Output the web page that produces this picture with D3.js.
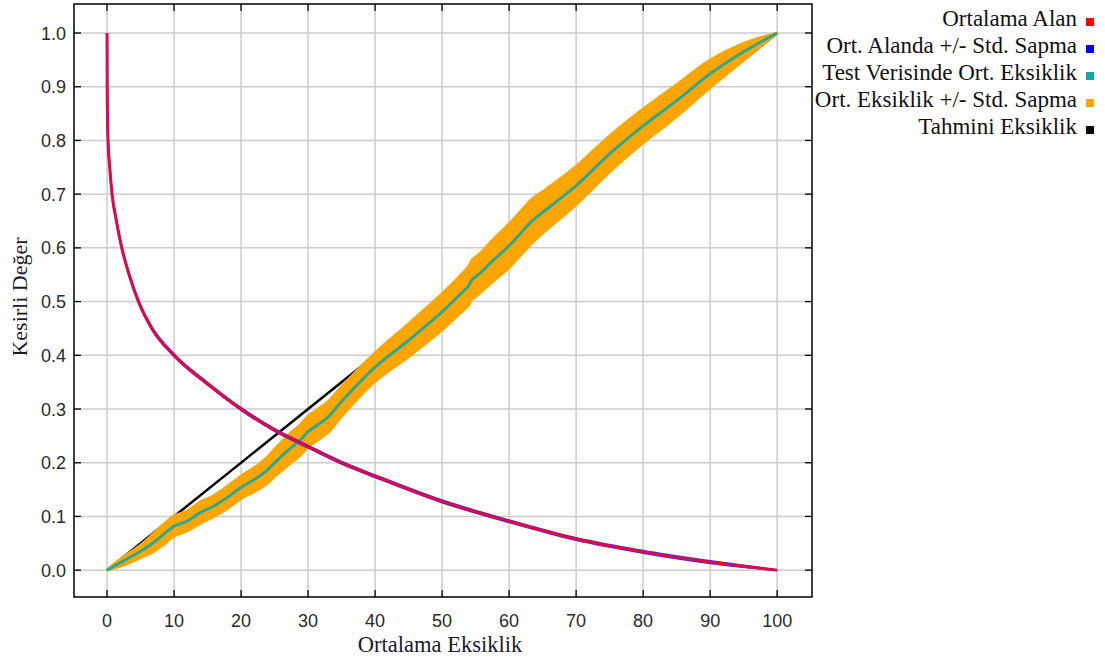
<!DOCTYPE html>
<html><head><meta charset="utf-8">
<script src="https://cdn.jsdelivr.net/npm/d3@7/dist/d3.min.js"></script>
<style>body{margin:0;background:#fff;} svg{display:block;}</style>
</head><body>
<svg id="chart" width="1105" height="661"></svg>
<script>
// ---- data ----
const xTicks = [0,10,20,30,40,50,60,70,80,90,100];
const yTicks = [0,0.1,0.2,0.3,0.4,0.5,0.6,0.7,0.8,0.9,1.0];

// Mean fractional predicted area (Ortalama Alan)
const areaX = [0,0.02,0.15,0.4,0.75,1.4,2.2,3.3,4.7,6.7,10,15,20,25,30,35,40,50,60,70,80,90,100];
const areaY = [1.0,0.9,0.8,0.75,0.7,0.65,0.6,0.55,0.5,0.45,0.4,0.347,0.3,0.261,0.23,0.2,0.175,0.128,0.091,0.058,0.034,0.015,0.0];
const areaSd = [0,0.002,0.002,0.002,0.002,0.002,0.002,0.002,0.002,0.002,0.002,0.002,0.002,0.002,0.002,0.002,0.002,0.002,0.002,0.002,0.002,0.002,0];

// Mean omission on test data (Test Verisinde Ort. Eksiklik) and its std
const omX  = [0,2,5,6.9,8.4,10,11.9,13.9,15.9,17.9,20.1,22.4,23.9,25.1,26.9,28.9,30,32.9,35,40,45,50,52.5,54,54.4,55.6,57.3,60,63.5,65,70,75,80,85,90,95,100];
const omY  = [0,0.014,0.035,0.051,0.066,0.082,0.091,0.107,0.119,0.135,0.155,0.172,0.186,0.201,0.222,0.243,0.258,0.284,0.314,0.378,0.428,0.481,0.511,0.53,0.54,0.552,0.573,0.604,0.651,0.666,0.716,0.775,0.827,0.874,0.924,0.965,1.0];
const omSd = [0,0.007,0.012,0.017,0.019,0.019,0.019,0.02,0.02,0.021,0.021,0.023,0.025,0.026,0.028,0.029,0.029,0.029,0.028,0.027,0.031,0.034,0.035,0.037,0.037,0.037,0.039,0.041,0.041,0.039,0.036,0.034,0.032,0.03,0.026,0.016,0.0];

// Predicted omission (Tahmini Eksiklik)
const predX = [0,100];
const predY = [0,1];

const legendLabels = ["Ortalama Alan","Ort. Alanda +/- Std. Sapma","Test Verisinde Ort. Eksiklik","Ort. Eksiklik +/- Std. Sapma","Tahmini Eksiklik"];
const legendColors = ["#ff0000","#0000ff","#12a6a6","#ffa500","#000000"];

// ---- layout ----
const svg = d3.select("#chart");
const L = 74, R = 812, T = 4, B = 597;
const x = d3.scaleLinear().domain([-4.93, 105.2]).range([L, R]);
const y = d3.scaleLinear().domain([-0.05, 1.054]).range([B, T]);

// grid
const g = svg.append("g");
g.selectAll(".gx").data(xTicks).enter().append("line")
  .attr("x1", d => x(d)).attr("x2", d => x(d)).attr("y1", T).attr("y2", B)
  .attr("stroke", "#cccccc").attr("stroke-width", 1.5);
g.selectAll(".gy").data(yTicks).enter().append("line")
  .attr("y1", d => y(d)).attr("y2", d => y(d)).attr("x1", L).attr("x2", R)
  .attr("stroke", "#cccccc").attr("stroke-width", 1.5);

svg.append("clipPath").attr("id","clip").append("rect")
  .attr("x", L).attr("y", T).attr("width", R-L).attr("height", B-T);
const plot = svg.append("g").attr("clip-path","url(#clip)");

// predicted omission
const pred = predX.map((v,i)=>({x:v,y:predY[i]}));
plot.append("path").datum(pred)
  .attr("d", d3.line().x(d=>x(d.x)).y(d=>y(d.y)))
  .attr("fill","none").attr("stroke","#000").attr("stroke-width",2.5);

// omission band
const om = omX.map((v,i)=>({x:v,y:omY[i],sd:omSd[i]}));
plot.append("path").datum(om)
  .attr("d", d3.area().x(d=>x(d.x)).y0(d=>y(d.y-d.sd)).y1(d=>y(d.y+d.sd)).curve(d3.curveCatmullRom.alpha(0.5)))
  .attr("fill","#ffa500").attr("stroke","#ffa500").attr("stroke-width",2.5).attr("stroke-linejoin","round");

// teal mean omission
plot.append("path").datum(om)
  .attr("d", d3.line().x(d=>x(d.x)).y(d=>y(d.y)).curve(d3.curveCatmullRom.alpha(0.5)))
  .attr("fill","none").attr("stroke","#2aa896").attr("stroke-width",3);

// area curves
const ar = areaX.map((v,i)=>({x:v,y:areaY[i],sd:areaSd[i]}));
const lineC = d3.curveMonotoneX;
[-1,1].forEach(s=>{
  plot.append("path").datum(ar)
    .attr("d", d3.line().x(d=>x(d.x)).y(d=>y(d.y + s*d.sd)).curve(lineC))
    .attr("fill","none").attr("stroke","#3030ff").attr("stroke-width",2);
});
plot.append("path").datum(ar)
  .attr("d", d3.line().x(d=>x(d.x)).y(d=>y(d.y)).curve(lineC))
  .attr("fill","none").attr("stroke","#de0a48").attr("stroke-width",3);

// frame
svg.append("rect").attr("x", L).attr("y", T).attr("width", R-L).attr("height", B-T)
  .attr("fill","none").attr("stroke","#000").attr("stroke-width",1.5);

// ticks inside on all sides
const tl = 7;
const tk = svg.append("g").attr("stroke","#000").attr("stroke-width",1.3);
xTicks.forEach(d=>{
  tk.append("line").attr("x1",x(d)).attr("x2",x(d)).attr("y1",B).attr("y2",B-tl);
  tk.append("line").attr("x1",x(d)).attr("x2",x(d)).attr("y1",T).attr("y2",T+tl);
});
yTicks.forEach(d=>{
  tk.append("line").attr("y1",y(d)).attr("y2",y(d)).attr("x1",L).attr("x2",L+tl);
  tk.append("line").attr("y1",y(d)).attr("y2",y(d)).attr("x1",R).attr("x2",R-tl);
});

// tick labels
const tickFont = "'Liberation Sans', Arial, sans-serif";
svg.append("g").selectAll("text").data(xTicks).enter().append("text")
  .attr("x", d=>x(d)).attr("y", 627).attr("text-anchor","middle")
  .attr("font-family", tickFont).attr("font-size", 18).attr("fill","#2a2a2a")
  .text(d=>d3.format("d")(d));
svg.append("g").selectAll("text").data(yTicks).enter().append("text")
  .attr("x", 66).attr("y", d=>y(d)+6.5).attr("text-anchor","end")
  .attr("font-family", tickFont).attr("font-size", 18).attr("fill","#2a2a2a")
  .text(d=>d3.format(".1f")(d));

// axis titles
const serif = "'Liberation Serif', 'Times New Roman', serif";
svg.append("text").attr("x", 440).attr("y", 652).attr("text-anchor","middle")
  .attr("font-family", serif).attr("font-size", 22.5).attr("fill","#1a1a2a")
  .text("Ortalama Eksiklik");
svg.append("text").attr("transform","translate(27,297) rotate(-90)").attr("text-anchor","middle")
  .attr("font-family", serif).attr("font-size", 22).attr("fill","#1a1a2a")
  .text("Kesirli Değer");

// legend
const lg = svg.append("g");
legendLabels.forEach((lab,i)=>{
  const by = 26 + i*27;
  lg.append("text").attr("x",1077).attr("y",by).attr("text-anchor","end")
    .attr("font-family", serif).attr("font-size", 23).attr("fill","#111")
    .text(lab);
  lg.append("rect").attr("x",1086).attr("y",by-8).attr("width",8).attr("height",8)
    .attr("fill",legendColors[i]);
});
</script>
</body></html>
